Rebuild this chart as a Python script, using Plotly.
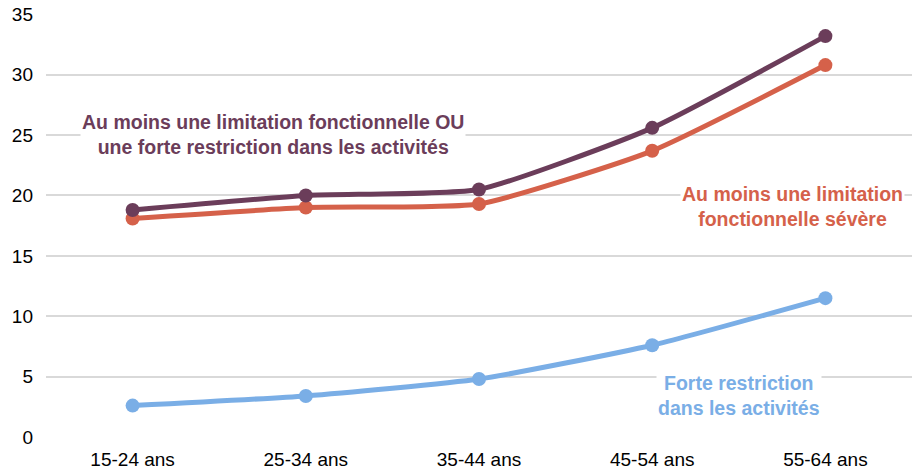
import plotly.graph_objects as go

categories = ["15-24 ans", "25-34 ans", "35-44 ans", "45-54 ans", "55-64 ans"]
limitation_ou_restriction = [18.8, 20.0, 20.5, 25.6, 33.2]
limitation_severe = [18.1, 19.0, 19.3, 23.7, 30.8]
forte_restriction = [2.6, 3.4, 4.8, 7.6, 11.5]
y_ticks = [0, 5, 10, 15, 20, 25, 30, 35]

PURPLE = "#6b3d5a"
ORANGE = "#d5614a"
BLUE = "#7aaee6"

fig = go.Figure()
for vals, col in [(forte_restriction, BLUE), (limitation_severe, ORANGE), (limitation_ou_restriction, PURPLE)]:
    fig.add_trace(go.Scatter(
        x=categories, y=vals, mode="lines+markers",
        line=dict(color=col, width=5, shape="spline", smoothing=0.5),
        marker=dict(color=col, size=14),
        showlegend=False, hoverinfo="x+y",
    ))

ann_font = dict(family="Liberation Sans, Arial, sans-serif", size=19.5)
fig.add_annotation(x=0.81, y=25.07, xref="x", yref="y",
                   text="<b>Au moins une limitation fonctionnelle OU<br>une forte restriction dans les activités</b>",
                   showarrow=False, font=dict(color=PURPLE, **ann_font), bgcolor="white", align="center")
fig.add_annotation(x=3.81, y=19.1, xref="x", yref="y",
                   text="<b>Au moins une limitation<br>fonctionnelle sévère</b>",
                   showarrow=False, font=dict(color=ORANGE, **ann_font), bgcolor="white", align="center")
fig.add_annotation(x=3.5, y=3.47, xref="x", yref="y",
                   text="<b>Forte restriction<br>dans les activités</b>",
                   showarrow=False, font=dict(color=BLUE, **ann_font), bgcolor="white", align="center")

fig.update_layout(
    width=912, height=472,
    margin=dict(l=46, r=0, t=14, b=35),
    paper_bgcolor="white", plot_bgcolor="white",
    font=dict(family="Liberation Sans, Arial, sans-serif", size=19, color="#000000"),
    xaxis=dict(showgrid=False, showline=False, zeroline=False, ticks="",
               range=[-0.5, 4.5], ticklabelstandoff=9),
    yaxis=dict(range=[0, 35.03], tickvals=y_ticks, showgrid=True, gridcolor="#d9d9d9", gridwidth=2,
               zeroline=False, showline=False, ticks="", ticklabelstandoff=12),
)
fig.write_html("out.html", config={"displayModeBar": False},
               post_script="document.body.style.margin='0';document.body.style.overflow='hidden';")
